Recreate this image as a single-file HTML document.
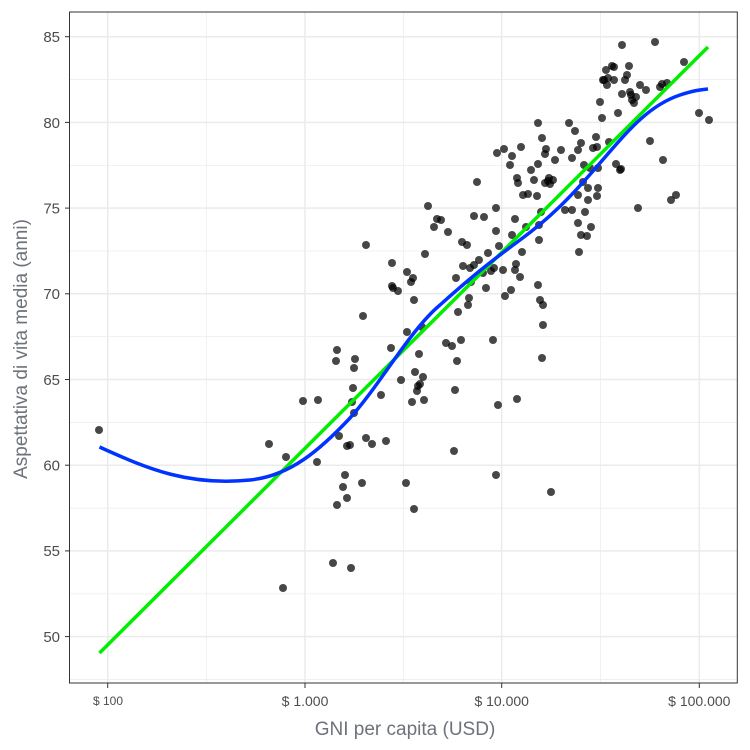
<!DOCTYPE html>
<html><head><meta charset="utf-8"><style>body{margin:0;background:#fff}svg{display:block}</style></head>
<body>
<svg id="s" width="750" height="750" viewBox="0 0 750 750" xmlns="http://www.w3.org/2000/svg" font-family="Liberation Sans, sans-serif">
<rect width="750" height="750" fill="#fff"/>
<g stroke="#ebebeb" stroke-width="0.7">
<line x1="69.5" x2="737.3" y1="79.6" y2="79.6"/><line x1="69.5" x2="737.3" y1="165.3" y2="165.3"/><line x1="69.5" x2="737.3" y1="251" y2="251"/><line x1="69.5" x2="737.3" y1="336.7" y2="336.7"/><line x1="69.5" x2="737.3" y1="422.4" y2="422.4"/><line x1="69.5" x2="737.3" y1="508.1" y2="508.1"/><line x1="69.5" x2="737.3" y1="593.8" y2="593.8"/><line x1="69.5" x2="737.3" y1="679.5" y2="679.5"/>
<line y1="12" y2="683" x1="206.3" x2="206.3"/><line y1="12" y2="683" x1="403.5" x2="403.5"/><line y1="12" y2="683" x1="600.5" x2="600.5"/>
</g>
<g stroke="#ebebeb" stroke-width="1.5">
<line x1="69.5" x2="737.3" y1="36.7" y2="36.7"/><line x1="69.5" x2="737.3" y1="122.4" y2="122.4"/><line x1="69.5" x2="737.3" y1="208.1" y2="208.1"/><line x1="69.5" x2="737.3" y1="293.8" y2="293.8"/><line x1="69.5" x2="737.3" y1="379.5" y2="379.5"/><line x1="69.5" x2="737.3" y1="465.2" y2="465.2"/><line x1="69.5" x2="737.3" y1="550.9" y2="550.9"/><line x1="69.5" x2="737.3" y1="636.6" y2="636.6"/>
<line y1="12" y2="683" x1="107.7" x2="107.7"/><line y1="12" y2="683" x1="305" x2="305"/><line y1="12" y2="683" x1="501.7" x2="501.7"/><line y1="12" y2="683" x1="699.3" x2="699.3"/>
</g>
<g id="pts" fill="#000" fill-opacity="0.72"></g>
<line x1="99.5" y1="653" x2="708" y2="47" stroke="#00ee00" stroke-width="3.5"/>
<path d="M99.5,447 C150,470 190,486 250,480 C290,476 320,450 350,418 C380,385 410,330 440,305 C470,278 490,262 520,240 C550,218 570,198 600,163 C630,128 650,105 680,95 C695,90 700,90 708,89" fill="none" stroke="#0033ff" stroke-width="3.5"/>
<rect x="69.5" y="12" width="667.8" height="671" fill="none" stroke="#333" stroke-width="1"/>
<g stroke="#333" stroke-width="1">
<line x1="65" x2="69.5" y1="36.7" y2="36.7"/><line x1="65" x2="69.5" y1="122.4" y2="122.4"/><line x1="65" x2="69.5" y1="208.1" y2="208.1"/><line x1="65" x2="69.5" y1="293.8" y2="293.8"/><line x1="65" x2="69.5" y1="379.5" y2="379.5"/><line x1="65" x2="69.5" y1="465.2" y2="465.2"/><line x1="65" x2="69.5" y1="550.9" y2="550.9"/><line x1="65" x2="69.5" y1="636.6" y2="636.6"/>
<line y1="683" y2="688" x1="107.7" x2="107.7"/><line y1="683" y2="688" x1="305" x2="305"/><line y1="683" y2="688" x1="501.7" x2="501.7"/><line y1="683" y2="688" x1="699.3" x2="699.3"/>
</g>
<g fill="#4d4d4d" font-size="15" text-anchor="end">
<text x="60" y="42">85</text><text x="60" y="128">80</text><text x="60" y="213.5">75</text><text x="60" y="299">70</text><text x="60" y="385">65</text><text x="60" y="470.5">60</text><text x="60" y="556">55</text><text x="60" y="642">50</text>
</g>
<g fill="#4d4d4d" text-anchor="middle">
<text x="108" y="705" font-size="12">$ 100</text><text x="305" y="706" font-size="14">$ 1.000</text><text x="501.7" y="706" font-size="14">$ 10.000</text><text x="699.3" y="706" font-size="14">$ 100.000</text>
</g>
<text x="405" y="735" fill="#6d737a" font-size="19" text-anchor="middle">GNI per capita (USD)</text>
<text transform="translate(27,349) rotate(-90)" fill="#6d737a" font-size="19" text-anchor="middle">Aspettativa di vita media (anni)</text>
</svg>
<script>
var p=[[99,430],[269,444],[286,457],[283,588],[303,401],[318,400],[317,462],[337,350],[336,361],[333,563],[351,568],[363,316],[366,245],[337,505],[347,498],[343,487],[345,475],[347,446],[339,436],[350,445],[352,402],[353,388],[354,368],[355,359],[354,413],[362,483],[366,438],[372,444],[381,395],[386,441],[391,348],[392,263],[392,286],[393,288],[398,291],[401,380],[406,483],[407,272],[407,332],[411,282],[413,278],[412,402],[414,509],[415,372],[417,391],[418,386],[420,384],[423,377],[424,400],[419,354],[414,300],[422,327],[425,254],[428,206],[434,227],[437,219],[441,220],[446,343],[448,232],[452,346],[454,451],[455,390],[456,278],[457,361],[458,312],[461,340],[462,242],[463,266],[467,245],[468,305],[469,298],[470,268],[471,282],[474,265],[474,216],[477,182],[479,260],[483,273],[484,217],[486,288],[488,253],[491,271],[493,340],[494,268],[496,231],[496,208],[497,153],[498,405],[496,475],[499,246],[503,270],[505,296],[504,149],[510,165],[512,156],[515,219],[516,264],[517,178],[515,270],[517,399],[511,290],[512,235],[518,183],[520,277],[521,147],[522,252],[523,195],[526,227],[528,194],[531,170],[534,180],[538,164],[538,285],[539,240],[540,300],[537,196],[538,123],[539,225],[541,212],[542,138],[542,358],[543,305],[543,325],[545,154],[546,149],[548,181],[549,178],[550,184],[551,492],[545,183],[553,180],[555,160],[561,150],[565,210],[569,123],[572,158],[572,210],[575,131],[578,223],[578,195],[578,150],[579,252],[581,235],[581,143],[583,182],[584,165],[585,212],[588,200],[588,188],[587,236],[590,168],[591,227],[593,148],[596,137],[597,196],[597,147],[598,168],[600,102],[602,118],[603,80],[604,80],[606,70],[607,85],[608,78],[612,66],[614,67],[614,80],[618,113],[622,94],[622,45],[621,169],[625,80],[627,75],[629,66],[630,92],[631,95],[632,100],[634,103],[636,97],[638,208],[640,85],[646,90],[650,141],[655,42],[660,87],[662,84],[663,160],[667,83],[671,200],[676,195],[684,62],[699,113],[709,120],[598,188],[609,142],[616,164],[620,170]];
var g=document.getElementById('pts'),s='';
p.forEach(function(a){s+='<circle cx="'+a[0]+'" cy="'+a[1]+'" r="4"/>';});
g.innerHTML=s;
</script>
</body></html>
